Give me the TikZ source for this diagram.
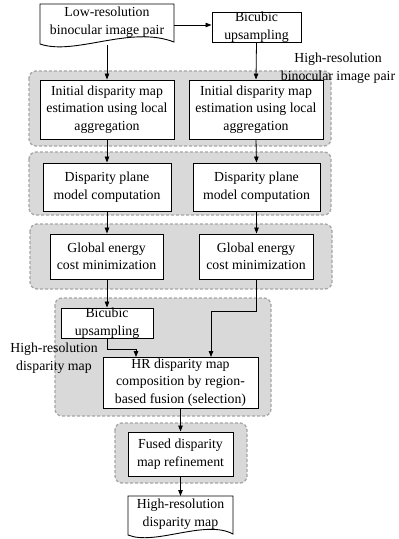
\documentclass[tikz,border=0pt]{standalone}
\usepackage{fontspec}
\setmainfont{Liberation Serif}
\usetikzlibrary{arrows.meta}
\begin{document}
\begin{tikzpicture}[x=1pt,y=-1pt,
  every node/.style={font=\fontsize{13.8}{17.5}\selectfont, align=center, inner sep=0pt},
  procbox/.style={draw, line width=0.9pt, fill=white},
  grp/.style={draw=gray!70, dashed, line width=1.3pt, fill=gray!30, rounded corners=7pt, dash pattern=on 3pt off 2pt},
  docline/.style={draw, line width=0.9pt, fill=white},
  arr/.style={line width=0.8pt, -{Triangle[length=6pt,width=4.5pt]}}]
\useasboundingbox (0,0) rectangle (399,539);
% groups
\draw[grp] (29,71) rectangle (331,146);
\draw[grp] (29,152) rectangle (331,215);
\draw[grp] (30,224) rectangle (332,289);
\draw[grp] (55,298) rectangle (271,416);
\draw[grp] (115,423) rectangle (247,483);
% document shapes
\path[docline] (40,4) -- (174,4) -- (174,42) .. controls (130,25) and (75,56) .. (40,44) -- cycle;
\node (lr) at (107,22) {Low-resolution\\binocular image pair};
\path[docline] (128,496) -- (233,496) -- (233,534) .. controls (205,519) and (155,546) .. (128,535) -- cycle;
\node (hrd) at (180.5,514) {High-resolution\\disparity map};
% boxes
\node[procbox, minimum width=89pt, minimum height=30pt] (bic1) at (256.5,27) {Bicubic\\upsampling};
\node[procbox, minimum width=134pt, minimum height=59pt] (initL) at (107,109.5) {Initial disparity map\\estimation using local\\aggregation};
\node[procbox, minimum width=134pt, minimum height=59pt] (initR) at (256,109.5) {Initial disparity map\\estimation using local\\aggregation};
\node[procbox, minimum width=128pt, minimum height=48pt] (dispL) at (107,187) {Disparity plane\\model computation};
\node[procbox, minimum width=127pt, minimum height=48pt] (dispR) at (256.5,187) {Disparity plane\\model computation};
\node[procbox, minimum width=113pt, minimum height=45pt] (globL) at (106.5,256.5) {Global energy\\cost minimization};
\node[procbox, minimum width=114pt, minimum height=45pt] (globR) at (256,256.5) {Global energy\\cost minimization};
\node[procbox, minimum width=92pt, minimum height=30pt] (bic2) at (107,323) {Bicubic\\upsampling};
\node[procbox, minimum width=155pt, minimum height=51pt] (hr) at (180.5,382.5) {HR disparity map\\composition by region-\\based fusion (selection)};
\node[procbox, minimum width=105pt, minimum height=44pt] (fused) at (180.5,454) {Fused disparity\\map refinement};
% labels
\node (lab1) at (338,68) {High-resolution\\binocular image pair};
\node (lab2) at (54,358) {High-resolution\\disparity map};
% arrows
\coordinate (lre) at (174,25);
\coordinate (lrb) at (107,45);
\draw[arr] (lre) -- (lre -| bic1.west);
\draw[arr] (lrb) -- (initL.north);
\draw[arr] (bic1.south) -- (initR.north);
\draw[arr] (initL.south) -- (dispL.north);
\draw[arr] (initR.south) -- (dispR.north);
\draw[arr] (dispL.south) -- (globL.north -| dispL.south);
\draw[arr] (dispR.south) -- (dispR.south |- globR.north);
\draw[arr] (globL.south -| bic2.north) -- (bic2.north);
\draw[arr] (globR.south) -- (256,311) -- (211,311) -- (211,357);
\draw[arr] (bic2.south) -- (107,349) -- (136,349) -- (136,357);
\draw[arr] (hr.south) -- (fused.north);
\draw[arr] (fused.south) -- (hrd.north |- 0,496);
\end{tikzpicture}
\end{document}
